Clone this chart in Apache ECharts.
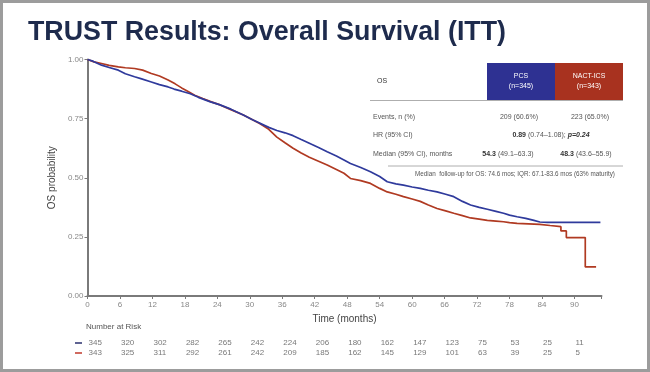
<!DOCTYPE html>
<html>
<head>
<meta charset="utf-8">
<script src="https://cdn.jsdelivr.net/npm/echarts@6/dist/echarts.min.js"></script>
<style>html,body{margin:0;padding:0;background:#fff}#c{width:650px;height:372px}</style>
</head>
<body>
<div id="c"></div>
<script>
// ---- data ----
var xTicks = [0, 6, 12, 18, 24, 30, 36, 42, 48, 54, 60, 66, 72, 78, 84, 90];
var yTicks = [0, 0.25, 0.5, 0.75, 1.0];
var pcsCurve = [
  [0,1],[1,0.993],[2.6,0.976],[4,0.966],[5.7,0.955],[7,0.94],[8.7,0.927],[10,0.918],[11.8,0.905],
  [13.3,0.894],[14.9,0.884],[16,0.875],[17.4,0.866],[19,0.855],[20.5,0.84],[22.6,0.822],[24.5,0.808],
  [26.5,0.79],[28.8,0.765],[30.5,0.745],[31.9,0.73],[33.5,0.713],[35,0.70],[36.5,0.69],[38,0.678],
  [39.5,0.662],[41.1,0.645],[42.7,0.628],[44.3,0.61],[46,0.592],[47.4,0.575],[48.6,0.56],[50.5,0.543],
  [52.3,0.525],[54,0.505],[55.4,0.483],[57,0.474],[58.4,0.469],[60,0.461],[61.5,0.455],[63,0.447],
  [64.6,0.44],[66.2,0.43],[67.7,0.42],[69.3,0.40],[70.8,0.385],[72.4,0.375],[73.9,0.367],[75.5,0.358],
  [76.9,0.35],[78,0.342],[79.4,0.335],[81,0.328],[82.5,0.32],[83.6,0.313],[85,0.311],[88,0.311],
  [91,0.311],[94.8,0.311]
];
var nactCurve = [
  [0,1],[1.2,0.99],[2.6,0.983],[4,0.975],[5.7,0.969],[7,0.965],[8.7,0.962],[10.2,0.955],[11.8,0.941],
  [13.3,0.93],[14.9,0.913],[16.2,0.897],[17.4,0.88],[18.6,0.865],[19.8,0.849],[21.3,0.835],[22.9,0.821],
  [24.5,0.808],[26.5,0.788],[28.8,0.765],[30.5,0.745],[31.9,0.728],[33.5,0.705],[35,0.672],[36.5,0.648],
  [38,0.625],[39.5,0.605],[41,0.587],[42.7,0.57],[44.3,0.554],[46,0.535],[47.4,0.519],[48.6,0.497],
  [50.5,0.488],[52.3,0.476],[54,0.455],[55.4,0.44],[57,0.43],[58.4,0.42],[60,0.41],[61.5,0.40],
  [63,0.385],[64.6,0.37],[66.2,0.36],[67.7,0.35],[69.3,0.34],[70.8,0.33],[72.4,0.325],[73.9,0.32],
  [75.5,0.317],[76.9,0.314],[78,0.31],[79.4,0.307],[81.5,0.305],[83.6,0.303],[85.5,0.298],[87.5,0.293],
  [87.5,0.275],[88.5,0.275],[88.5,0.247],[92,0.247],[92,0.123],[94,0.123]
];
var riskGroups = ['PCS', 'NACT-ICS'];
var riskPCS = [345, 320, 302, 282, 265, 242, 224, 206, 180, 162, 147, 123, 75, 53, 25, 11];
var riskNACT = [343, 325, 311, 292, 261, 242, 209, 185, 162, 145, 129, 101, 63, 39, 25, 5];

var BLUE = '#2f3a9c', RED = '#b03a22';
var HBLUE = '#2e3192', HRED = '#a8321f';
var FF = '"Liberation Sans", Arial, sans-serif';
var TF = '7px ' + FF;

function riskData(arr, row) {
  return arr.map(function (v, i) { return [xTicks[i], row, v]; });
}
function riskSeries(arr, row) {
  return {type: 'scatter', xAxisIndex: 1, yAxisIndex: 1, data: riskData(arr, row), symbolSize: 1,
    itemStyle: {color: 'rgba(0,0,0,0)'}, silent: true,
    label: {show: true, position: 'inside', align: 'left', offset: [1, 0], color: '#555', fontSize: 8,
      fontFamily: FF, formatter: function (p) { return String(p.value[2]); }}};
}

var chart = echarts.init(document.getElementById('c'), null, {renderer: 'canvas'});

function t(x, y, text, opts) {
  var st = {text: text, fill: '#555', font: TF, textVerticalAlign: 'middle', textAlign: 'left'};
  for (var k in (opts || {})) st[k] = opts[k];
  return {type: 'text', x: x, y: y, style: st};
}
var rich = {b: {fontWeight: 'bold', fontSize: 7, fontFamily: FF, fill: '#333'},
            i: {fontWeight: 'bold', fontStyle: 'italic', fontSize: 7, fontFamily: FF, fill: '#333'},
            n: {fontSize: 7, fontFamily: FF, fill: '#555'}};

chart.setOption({
  animation: false,
  backgroundColor: '#fff',
  grid: [
    {left: 87.5, right: 48.5, top: 59.5, bottom: 76, containLabel: false},
    {left: 87.5, right: 48.5, top: 338, height: 20, containLabel: false}
  ],
  xAxis: [{
    type: 'value', gridIndex: 0, min: 0, max: 95, interval: 6,
    axisLine: {lineStyle: {color: '#7a7a7a', width: 2}},
    axisTick: {show: true, length: 3, lineStyle: {color: '#7a7a7a'}},
    splitLine: {show: false},
    axisLabel: {color: '#888', fontSize: 8, fontFamily: FF, margin: 5,
      formatter: function (v) { return xTicks.indexOf(v) >= 0 ? String(v) : ''; }},
    name: 'Time (months)', nameLocation: 'middle', nameGap: 13,
    nameTextStyle: {color: '#444', fontSize: 10, fontFamily: FF}
  }, {
    type: 'value', gridIndex: 1, min: 0, max: 95, show: false
  }],
  yAxis: [{
    type: 'value', gridIndex: 0, min: 0, max: 1, interval: 0.25,
    axisLine: {show: true, lineStyle: {color: '#7a7a7a', width: 2}},
    axisTick: {show: true, length: 3, lineStyle: {color: '#7a7a7a'}},
    splitLine: {show: false},
    axisLabel: {color: '#888', fontSize: 8, fontFamily: FF, margin: 4,
      formatter: function (v) { return v.toFixed(2); }},
    name: 'OS probability', nameLocation: 'middle', nameGap: 30,
    nameTextStyle: {color: '#444', fontSize: 10, fontFamily: FF}
  }, {
    type: 'category', gridIndex: 1, data: riskGroups, inverse: true, show: false
  }],
  series: [
    {type: 'line', name: 'NACT-ICS', xAxisIndex: 0, yAxisIndex: 0, data: nactCurve, showSymbol: false,
      lineStyle: {color: RED, width: 1.7}, itemStyle: {color: RED}, z: 3},
    {type: 'line', name: 'PCS', xAxisIndex: 0, yAxisIndex: 0, data: pcsCurve, showSymbol: false,
      lineStyle: {color: BLUE, width: 1.7}, itemStyle: {color: BLUE}, z: 4},
    riskSeries(riskPCS, 0),
    riskSeries(riskNACT, 1)
  ],
  graphic: [
    {type: 'rect', shape: {x: 1.5, y: 1.5, width: 647, height: 369}, style: {fill: 'none', stroke: '#9c9c9c', lineWidth: 3}, z: 100},
    {type: 'text', left: 28, top: 19, style: {text: 'TRUST Results: Overall Survival (ITT)', fill: '#1e2b4d',
      font: 'bold 26.8px ' + FF}},
    // number at risk
    {type: 'text', left: 86, top: 323, style: {text: 'Number at Risk', fill: '#555', font: '8px ' + FF}},
    {type: 'line', shape: {x1: 75, y1: 343, x2: 82, y2: 343}, style: {stroke: '#2a2f6e', lineWidth: 1.5}},
    {type: 'line', shape: {x1: 75, y1: 353, x2: 82, y2: 353}, style: {stroke: '#c0392b', lineWidth: 1.5}},
    // table
    {type: 'rect', shape: {x: 487, y: 63, width: 68, height: 37}, style: {fill: HBLUE}},
    {type: 'rect', shape: {x: 555, y: 63, width: 68, height: 37}, style: {fill: HRED}},
    t(521, 76, 'PCS', {fill: '#fff', textAlign: 'center'}),
    t(521, 86, '(n=345)', {fill: '#fff', textAlign: 'center'}),
    t(589, 76, 'NACT-ICS', {fill: '#fff', textAlign: 'center'}),
    t(589, 86, '(n=343)', {fill: '#fff', textAlign: 'center'}),
    t(377, 81, 'OS', {fill: '#333'}),
    {type: 'line', shape: {x1: 370, y1: 100.5, x2: 623, y2: 100.5}, style: {stroke: '#999', lineWidth: 0.8}},
    t(373, 117, 'Events, n (%)'),
    t(373, 135, 'HR (95% CI)'),
    t(373, 154, 'Median (95% CI), months'),
    t(519, 117, '209 (60.6%)', {textAlign: 'center'}),
    t(590, 117, '223 (65.0%)', {textAlign: 'center'}),
    t(551, 135, '{b|0.89}{n| (0.74\u20131.08); }{i|p=0.24}', {textAlign: 'center', rich: rich}),
    t(508, 154, '{b|54.3}{n| (49.1\u201363.3)}', {textAlign: 'center', rich: rich}),
    t(586, 154, '{b|48.3}{n| (43.6\u201355.9)}', {textAlign: 'center', rich: rich}),
    {type: 'line', shape: {x1: 388, y1: 166, x2: 623, y2: 166}, style: {stroke: '#999', lineWidth: 0.8}},
    t(515, 174, 'Median  follow-up for OS: 74.6 mos; IQR: 67.1-83.6 mos (63% maturity)', {textAlign: 'center', font: '6.3px ' + FF})
  ]
});
</script>
</body>
</html>
